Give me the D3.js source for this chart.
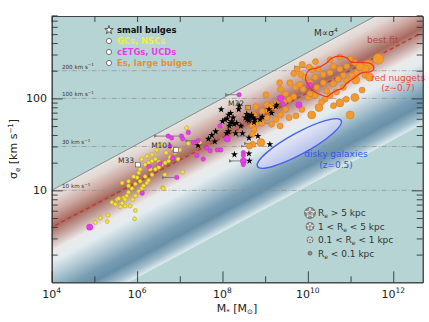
<!DOCTYPE html>
<html><head><meta charset="utf-8">
<script src="https://cdn.jsdelivr.net/npm/d3@7"></script>
<style>body{margin:0;background:#fff}svg{display:block;font-family:"DejaVu Sans",sans-serif}</style>
</head><body><svg id="c" width="429" height="322"></svg>
<script>
// ---------- data (log10 M*, log10 sigma) ----------
const xTickExp = [4, 6, 8, 10, 12];
const yTickLabels = [10, 100];
const refSigma = [200, 100, 30, 10];
const refLabels = ["200 km s", "100 km s", "30 km s", "10 km s"];
const upperLine = [0.25, 0.0];        // M ∝ sigma^4, slope / intercept in log
const bandLower = [0.25, -1.45];
const bestFit = [0.244, -0.378];
const legendCats = ["small bulges", "GCs, NSCs", "cETGs, UCDs", "Es, large bulges"];
const sizeLabels = ["> 5 kpc", "1 < R", "0.1 < R", "< 0.1 kpc"];

const gcs = [[5.02,0.65],[5.14,0.70],[5.30,0.66],[5.32,0.73],[5.61,0.82],[5.41,0.87],[5.49,0.85],[5.53,0.90],[5.65,0.86],[5.69,0.92],[5.72,0.90],[5.76,0.94],[5.80,0.98],[5.88,1.02],[5.96,1.07],[5.65,1.08],[5.80,1.10],[6.00,1.14],[6.04,1.19],[6.07,1.23],[6.19,1.28],[6.27,1.30],[6.35,1.32],[6.43,1.34],[6.51,1.31],[6.58,1.28],[6.66,1.30],[6.74,1.32],[6.47,1.43],[5.90,0.90],[5.96,0.94],[6.04,0.99],[6.11,1.02],[6.15,1.05],[6.23,1.08],[6.27,1.11],[6.35,1.17],[6.31,1.23],[5.96,0.78],[5.94,0.69],[6.60,1.03],[5.84,0.83],[5.72,0.83],[6.19,1.15],[6.11,0.98],[5.57,0.91],[6.07,1.10],[5.92,1.15],[5.80,1.05],[6.43,1.23],[6.51,1.25],[6.11,1.34],[6.23,1.37],[6.35,1.39],[7.16,1.68],[7.20,1.51],[6.46,1.44],[7.47,1.52],[7.07,1.20],[6.61,1.02],[6.65,1.17],[6.89,1.41],[6.77,1.36],[6.96,1.34],[6.82,1.46],[7.00,1.44],[6.68,1.41],[6.54,1.50]];

const cetgs = [[4.89,0.60,2],[6.12,0.97,1],[6.93,1.14,1],[6.73,1.59,1],[6.81,1.57,1],[7.04,1.59,1],[6.77,1.48,1],[6.89,1.43,1],[7.32,1.52,1],[7.63,1.46,1],[7.71,1.43,1],[8.39,2.04,1],[7.20,1.63,1],[7.07,1.56,1],[7.43,1.54,1],[8.11,1.56,2],[7.88,1.44,1],[7.96,1.44,1],[7.40,1.38,1],[6.83,1.35,1],[8.49,1.41,1],[8.49,1.38,1],[8.49,1.32,2],[8.49,1.28,1],[7.55,1.34,1],[10.04,2.14,2],[9.36,2.00,2],[9.42,1.94,1],[9.79,1.93,2],[7.94,1.70,1],[6.28,1.26,1],[6.54,1.29,1]];

const bulges = [[8.00,1.75],[8.06,1.77],[8.11,1.78],[8.18,1.73],[8.22,1.75],[8.27,1.72],[8.33,1.73],[8.16,1.70],[8.14,1.82],[8.19,1.84],[8.38,1.88],[8.57,1.83],[8.60,1.81],[8.64,1.80],[8.68,1.82],[8.72,1.79],[8.58,1.77],[8.76,1.77],[8.47,1.62],[8.31,1.62],[8.14,1.64],[7.67,1.56],[7.82,1.53],[7.43,1.49],[8.28,1.39],[9.27,1.93],[9.15,1.84],[7.97,1.88],[8.25,1.79],[8.39,1.92],[8.54,1.79],[8.62,1.76],[8.74,1.74],[8.93,1.80],[9.09,1.88],[9.25,1.91],[7.84,1.64],[8.10,1.62],[8.62,1.57],[8.83,1.59],[9.11,1.50],[8.62,1.40],[8.63,1.32],[7.75,1.60],[8.43,1.70],[8.88,1.77]];

const ellipticals = [[11.65,2.43,4],[11.41,2.36,4],[11.34,2.32,3],[11.22,2.35,3],[11.10,2.39,2],[10.99,2.43,2],[10.91,2.35,2],[10.75,2.32,2],[10.60,2.35,2],[10.52,2.28,2],[10.36,2.26,2],[10.24,2.32,2],[10.17,2.23,2],[10.05,2.17,2],[9.93,2.23,2],[9.89,2.10,2],[10.21,2.12,2],[10.36,2.17,2],[10.44,2.08,2],[10.60,2.16,2],[10.71,2.21,2],[10.83,2.25,2],[10.91,2.19,2],[11.03,2.25,2],[11.14,2.28,2],[10.83,2.12,2],[10.67,2.07,2],[11.10,2.01,3],[10.99,1.82,3],[10.75,1.95,3],[10.60,1.92,2],[10.40,1.99,2],[10.17,2.03,2],[10.01,2.01,2],[11.34,2.25,2],[11.45,2.23,3],[11.12,2.20,3],[10.26,1.90,3],[10.09,1.82,3],[9.67,2.02,2],[9.56,1.99,2],[9.48,2.05,2],[9.36,2.10,2],[9.34,2.17,2],[9.67,2.27,2],[9.75,2.32,2],[9.87,2.37,2],[9.83,2.26,2],[9.71,2.12,2],[9.58,2.17,2],[9.44,1.96,2],[9.25,1.90,2],[9.17,1.92,2],[9.07,1.87,2],[9.05,1.79,2],[8.93,1.86,2],[8.78,1.91,2],[8.74,1.82,2],[8.82,1.73,2],[8.70,1.70,2],[8.74,1.66,2],[8.70,1.61,2],[8.90,1.52,3],[9.25,1.77,2],[9.36,1.82,2],[9.48,1.88,2],[9.04,1.93,2],[8.92,1.73,2],[9.15,1.72,2],[8.71,1.50,2],[9.27,1.95,2],[9.10,1.91,2],[8.63,1.48,2],[9.35,1.70,2],[10.18,2.40,2],[10.52,2.42,2],[10.75,2.45,2],[10.10,2.31,2],[9.81,2.15,2],[10.05,2.05,2],[10.32,1.96,2],[10.52,2.03,2],[10.90,1.99,2],[11.27,2.09,2],[9.02,2.04,2],[10.03,2.34,2],[9.72,1.81,2],[9.56,1.79,2],[9.86,1.88,2]];

// upper limits: [logM point, logM arrow tip, log sigma]
const limits = [[8.39,8.13,2.04],[7.00,6.46,1.59],[6.93,6.65,1.14],[7.46,7.20,1.54],[8.68,8.41,1.59],[8.76,8.49,1.48],[8.49,8.22,1.32],[8.88,8.57,1.51],[10.03,9.75,2.34],[9.17,8.82,1.73]];

const redNuggets = [[9.95,2.24],[10.03,2.31],[10.22,2.33],[10.42,2.38],[10.57,2.44],[10.73,2.46],[10.92,2.44],[11.00,2.40],[11.24,2.39],[11.47,2.38],[11.55,2.33],[11.47,2.29],[11.27,2.28],[11.08,2.22],[10.92,2.17],[10.81,2.11],[10.69,2.09],[10.57,2.06],[10.45,2.02],[10.30,2.04],[10.14,2.08],[10.03,2.13],[9.95,2.20]];

const diskyCenter = [9.80, 1.51], diskyEnd = [10.78, 1.76], diskyMinorDex = 0.115;
const namedObjects = [["M33", 6.02, 1.28], ["M101", 6.91, 1.44], ["M32", 8.60, 1.90]];

// ---------- setup ----------
const svg = d3.select("#c");
const L = 51.7, R = 422.7, T = 16, B = 282.3;
const x = d3.scaleLog().domain([1e4, 10 ** 12.69]).range([L, R]);
const y = d3.scaleLog().domain([1, 10 ** 2.896]).range([B, T]);
const X = v => x(10 ** v), Y = v => y(10 ** v);
const defs = svg.append("defs");
defs.append("clipPath").attr("id", "clip").append("rect").attr("x", L).attr("y", T).attr("width", R - L).attr("height", B - T);
defs.append("marker").attr("id", "arr").attr("viewBox", "0 0 10 10").attr("refX", 2).attr("refY", 5)
  .attr("markerWidth", 4).attr("markerHeight", 4).attr("orient", "auto-start-reverse")
  .append("path").attr("d", "M10,0 L0,5 L10,10 z").attr("fill", "#777");

const plot = svg.append("g").attr("clip-path", "url(#clip)");
plot.append("rect").attr("x", L).attr("y", T).attr("width", R - L).attr("height", B - T).attr("fill", "#b5d4d3");

// band gradient perpendicular to the relation
const pA = [X(8), Y(upperLine[0] * 8 + upperLine[1])];
const pB = [X(9), Y(upperLine[0] * 9 + upperLine[1])];
let dx = pB[0] - pA[0], dy = pB[1] - pA[1]; const ln = Math.hypot(dx, dy); dx /= ln; dy /= ln;
const vert = Y(upperLine[0] * 8 + bandLower[1]) - pA[1];
const perp = vert * dx;
const nrm = [-dy, dx];
const grad = defs.append("linearGradient").attr("id", "band").attr("gradientUnits", "userSpaceOnUse")
  .attr("x1", pA[0]).attr("y1", pA[1]).attr("x2", pA[0] + perp * nrm[0]).attr("y2", pA[1] + perp * nrm[1]);
const stops = [[0, "#e6e4e2"], [-0.10, "#e2d7d3"], [-0.25, "#cba59e"], [-0.40, "#a6695e"], [-0.53, "#c7a6a1"], [-0.66, "#ebe9e9"], [-0.78, "#e3ecf0"], [-0.95, "#b0c7d2"], [-1.12, "#7a9fb5"], [-1.24, "#6890a8"], [-1.36, "#9fbccb"], [-1.45, "#e0ecef"]];
stops.forEach(s => grad.append("stop").attr("offset", s[0] / bandLower[1]).attr("stop-color", s[1]));
const bandPts = [[3, upperLine[0] * 3 + upperLine[1]], [14, upperLine[0] * 14 + upperLine[1]], [14, bandLower[0] * 14 + bandLower[1]], [3, bandLower[0] * 3 + bandLower[1]]];
plot.append("path").attr("d", d3.line().x(d => X(d[0])).y(d => Y(d[1]))(bandPts) + "Z").attr("fill", "url(#band)");

// upper gray line
plot.append("line").attr("x1", X(3)).attr("y1", Y(upperLine[0] * 3 + upperLine[1])).attr("x2", X(14)).attr("y2", Y(upperLine[0] * 14 + upperLine[1]))
  .attr("stroke", "#8a8a8a").attr("stroke-width", 1);

// reference lines
refSigma.forEach((s, i) => {
  plot.append("line").attr("x1", L).attr("x2", R).attr("y1", y(s)).attr("y2", y(s))
    .attr("stroke", "#8c8c8c").attr("stroke-width", 0.7).attr("stroke-dasharray", "5,2,1,2");
  const t = plot.append("text").attr("x", 62).attr("y", y(s) - 2).attr("font-size", 5.6).attr("fill", "#333").text(refLabels[i]);
  t.append("tspan").attr("font-size", 4).attr("dy", -2.5).text("−1");
});

// disky ellipse
const ecx = X(diskyCenter[0]), ecy = Y(diskyCenter[1]);
const eex = X(diskyEnd[0]), eey = Y(diskyEnd[1]);
const erx = Math.hypot(eex - ecx, eey - ecy), eang = Math.atan2(eey - ecy, eex - ecx) * 180 / Math.PI;
const ery = diskyMinorDex * (Y(0) - Y(1));
const eg = defs.append("linearGradient").attr("id", "eg").attr("x1", 0).attr("y1", 0).attr("x2", 0).attr("y2", 1);
eg.append("stop").attr("offset", 0).attr("stop-color", "#e4e8f6");
eg.append("stop").attr("offset", 1).attr("stop-color", "#b8c2ea");
plot.append("ellipse").attr("transform", `translate(${ecx},${ecy}) rotate(${eang})`).attr("rx", erx).attr("ry", ery)
  .attr("fill", "url(#eg)").attr("stroke", "#4763ee").attr("stroke-width", 1.4);

// best fit
plot.append("line").attr("x1", X(3.5)).attr("y1", Y(bestFit[0] * 3.5 + bestFit[1])).attr("x2", X(12.62)).attr("y2", Y(bestFit[0] * 12.62 + bestFit[1]))
  .attr("stroke", "#c0392b").attr("stroke-width", 1.4).attr("stroke-dasharray", "4,3");

// upper limit arrows
plot.selectAll(".lim").data(limits).join("line").attr("x1", d => X(d[0])).attr("x2", d => X(d[1])).attr("y1", d => Y(d[2])).attr("y2", d => Y(d[2]))
  .attr("stroke", "#777").attr("stroke-width", 0.9).attr("marker-end", "url(#arr)");

// points
const oR = {2: 3, 3: 4, 4: 5.3};
plot.selectAll(".es").data(ellipticals).join("circle").attr("cx", d => X(d[0])).attr("cy", d => Y(d[1])).attr("r", d => oR[d[2]])
  .attr("fill", "#f39a2e").attr("stroke", "#c8782a").attr("stroke-width", 0.5);
const star = d3.symbol().type(d3.symbolStar);
plot.selectAll(".sb").data(bulges).join("path").attr("transform", d => `translate(${X(d[0])},${Y(d[1])})`).attr("d", star.size(15)())
  .attr("fill", "#000");
plot.selectAll(".gc").data(gcs).join("circle").attr("cx", d => X(d[0])).attr("cy", d => Y(d[1])).attr("r", 2)
  .attr("fill", "#f3e33a").attr("stroke", "#b29a20").attr("stroke-width", 0.5);
plot.selectAll(".ce").data(cetgs).join("circle").attr("cx", d => X(d[0])).attr("cy", d => Y(d[1])).attr("r", d => d[2] === 2 ? 3.2 : 2.3)
  .attr("fill", "#e33ee8").attr("stroke", "#b020b0").attr("stroke-width", 0.3);

// red nuggets contour
plot.append("path").attr("d", d3.line().x(d => X(d[0])).y(d => Y(d[1])).curve(d3.curveCatmullRomClosed)(redNuggets))
  .attr("fill", "none").attr("stroke", "#ee3322").attr("stroke-width", 1.2);

// named objects
namedObjects.forEach((o, i) => {
  const px = X(o[1]), py = Y(o[2]);
  plot.append("rect").attr("x", px - 2.3).attr("y", py - 2.3).attr("width", 4.6).attr("height", 4.6)
    .attr("fill", i === 2 ? "#f39a2e" : "#fff").attr("stroke", "#555").attr("stroke-width", 0.6);
  svg.append("text").attr("x", px - 4).attr("y", py - 2).attr("text-anchor", "end").attr("font-size", 7.5).attr("fill", "#333").text(o[0]);
});

// annotations
const ann = (tx, ty, s, col, fs) => svg.append("text").attr("x", tx).attr("y", ty).attr("font-size", fs).attr("fill", col).text(s);
const mt = ann(314, 36, "M∝σ", "#333", 9); mt.append("tspan").attr("font-size", 6).attr("dy", -4).text("4");
ann(367, 43, "best fit", "#b24a45", 9);
svg.append("text").attr("x", 398).attr("y", 81).attr("text-anchor", "middle").attr("font-size", 9).attr("fill", "#e8503f").text("red nuggets");
svg.append("text").attr("x", 398).attr("y", 91).attr("text-anchor", "middle").attr("font-size", 9).attr("fill", "#e8503f").text("(z∼0.7)");
svg.append("text").attr("x", 336).attr("y", 157).attr("text-anchor", "middle").attr("font-size", 9).attr("fill", "#3a55e6").text("disky galaxies");
svg.append("text").attr("x", 336).attr("y", 168).attr("text-anchor", "middle").attr("font-size", 9).attr("fill", "#3a55e6").text("(z=0.5)");

// legend (categories)
const legCols = ["#111", "#eeee44", "#e33ee8", "#e8902a"];
legendCats.forEach((c, i) => {
  const ly = 30 + i * 11;
  if (i === 0) svg.append("path").attr("transform", `translate(109,${ly})`).attr("d", star.size(22)()).attr("fill", "#fff").attr("stroke", "#333").attr("stroke-width", 0.8);
  else svg.append("circle").attr("cx", 109).attr("cy", ly).attr("r", 2.6).attr("fill", "#fff").attr("stroke", "#555").attr("stroke-width", 0.8);
  svg.append("text").attr("x", 117).attr("y", ly + 3).attr("font-size", 8.4).attr("font-weight", "bold").attr("fill", legCols[i]).text(c);
});

// legend (sizes)
const sR = [5.5, 4, 3, 2];
sizeLabels.forEach((s, i) => {
  const ly = 213 + i * 13.4;
  svg.append("circle").attr("cx", 310).attr("cy", ly).attr("r", sR[i]).attr("fill", "#8c8c8c").attr("stroke", "#555").attr("stroke-width", 0.6);
  if (i < 3) svg.append("path").attr("transform", `translate(310,${ly})`).attr("d", star.size(sR[i] * sR[i] * 0.9)()).attr("fill", "none").attr("stroke", "#fff").attr("stroke-width", 0.7);
  const t = svg.append("text").attr("x", 318).attr("y", ly + 3.3).attr("font-size", 9).attr("fill", "#333");
  if (i === 0 || i === 3) {
    t.append("tspan").text("R"); t.append("tspan").attr("font-size", 6).attr("dy", 2).text("e");
    t.append("tspan").attr("dy", -2).text(" " + s);
  } else {
    t.append("tspan").text(s); t.append("tspan").attr("font-size", 6).attr("dy", 2).text("e");
    t.append("tspan").attr("dy", -2).text(i === 1 ? " < 5 kpc" : " < 1 kpc");
  }
});

// ---------- axes ----------
const axCol = "#333";
const styleAx = g => { g.selectAll("path,line").attr("stroke", axCol).attr("stroke-width", 0.9); g.selectAll("text").remove(); };
const decades = d3.range(4, 13).map(e => 10 ** e);
const majX = xTickExp.map(e => 10 ** e), minX = decades.filter(v => !majX.includes(v));
svg.append("g").attr("transform", `translate(0,${B})`).call(d3.axisBottom(x).tickValues(majX).tickSize(-11).tickSizeOuter(0)).call(styleAx);
svg.append("g").attr("transform", `translate(0,${B})`).call(d3.axisBottom(x).tickValues(minX).tickSize(-6).tickSizeOuter(0)).call(styleAx);
svg.append("g").attr("transform", `translate(0,${T})`).call(d3.axisTop(x).tickValues(decades).tickSize(-6).tickSizeOuter(0)).call(styleAx);
const majY = yTickLabels;
const minY = [];
[1, 10, 100].forEach(b => d3.range(2, 10).forEach(k => { if (b * k <= 800) minY.push(b * k); }));
svg.append("g").attr("transform", `translate(${L},0)`).call(d3.axisLeft(y).tickValues(majY).tickSize(-11).tickSizeOuter(0)).call(styleAx);
svg.append("g").attr("transform", `translate(${L},0)`).call(d3.axisLeft(y).tickValues(minY).tickSize(-6).tickSizeOuter(0)).call(styleAx);
svg.append("g").attr("transform", `translate(${R},0)`).call(d3.axisRight(y).tickValues(majY).tickSize(-11).tickSizeOuter(0)).call(styleAx);
svg.append("g").attr("transform", `translate(${R},0)`).call(d3.axisRight(y).tickValues(minY).tickSize(-6).tickSizeOuter(0)).call(styleAx);

// tick labels
xTickExp.forEach(e => {
  const t = svg.append("text").attr("x", x(10 ** e)).attr("y", 298).attr("text-anchor", "middle").attr("font-size", 11).attr("fill", "#222");
  t.append("tspan").text("10"); t.append("tspan").attr("font-size", 7.5).attr("dy", -5).text(e);
});
yTickLabels.forEach(v => svg.append("text").attr("x", 47).attr("y", y(v) + 4).attr("text-anchor", "end").attr("font-size", 11).attr("fill", "#222").text(v));

// axis titles
const xt = svg.append("text").attr("x", 237).attr("y", 312).attr("text-anchor", "middle").attr("font-size", 11).attr("fill", "#222");
xt.append("tspan").text("M"); xt.append("tspan").attr("font-size", 7).attr("dy", 2).text("*");
xt.append("tspan").attr("dy", -2).text(" [M"); xt.append("tspan").attr("font-size", 7).attr("dy", 2).text("⊙");
xt.append("tspan").attr("dy", -2).text("]");
const yt = svg.append("text").attr("transform", "translate(17,149) rotate(-90)").attr("text-anchor", "middle").attr("font-size", 11).attr("fill", "#222");
yt.append("tspan").text("σ"); yt.append("tspan").attr("font-size", 7).attr("dy", 2.5).text("e");
yt.append("tspan").attr("dy", -2.5).text(" [km s"); yt.append("tspan").attr("font-size", 7).attr("dy", -4).text("−1");
yt.append("tspan").attr("dy", 4).text("]");
</script></body></html>
